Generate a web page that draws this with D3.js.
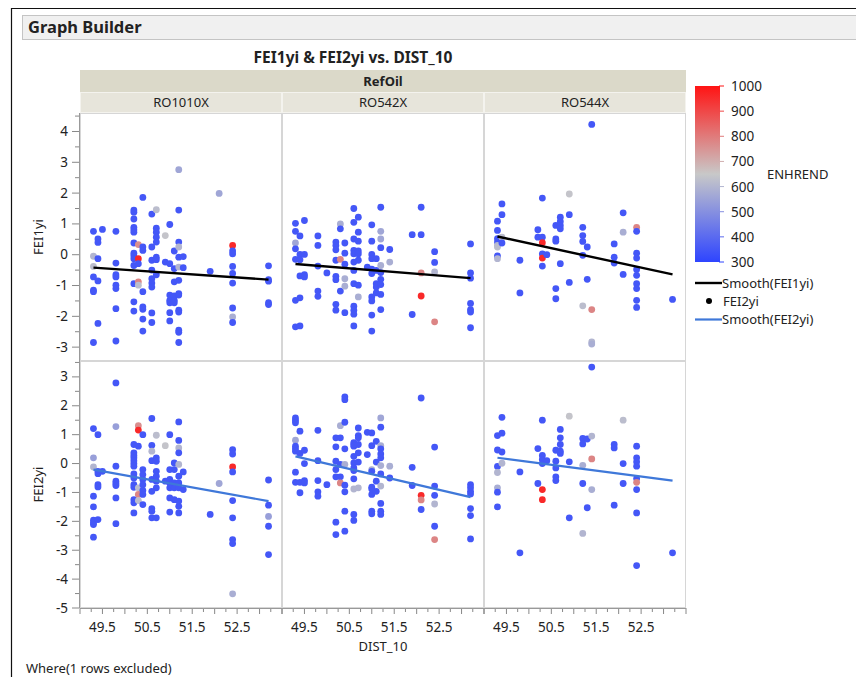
<!DOCTYPE html>
<html><head><meta charset="utf-8">
<script src="https://cdn.jsdelivr.net/npm/d3@7"></script>
<style>
body{margin:0;background:#fff;}
svg text{font-family:"Noto Sans","Open Sans",sans-serif;fill:#222;}
</style></head>
<body><svg id="c" width="856" height="677"></svg>
<script>
// ---------- data ----------
const refOils = ["RO1010X","RO542X","RO544X"];
const xTicks = [49.5,50.5,51.5,52.5];
const yTicksTop = [-3,-2,-1,0,1,2,3,4];
const yTicksBottom = [-5,-4,-3,-2,-1,0,1,2,3];
const colorTicks = [300,400,500,600,700,800,900,1000];

// [DIST_10, FEI1yi, ENHREND]
const fei1_RO1010X = [[49.3,0.76,350],[49.3,-0.05,600],[49.3,-0.38,620],[49.3,-0.72,350],[49.3,-1.15,350],[49.3,-1.2,350],[49.3,-2.85,350],
[49.4,0.51,350],[49.4,0.4,350],[49.4,-0.13,350],[49.4,-0.85,350],[49.4,-2.23,350],[49.5,0.82,350],
[49.8,0.76,350],[49.8,-0.27,350],[49.8,-0.65,350],[49.8,-0.72,350],[49.8,-0.99,350],[49.8,-1.1,350],[49.8,-1.75,350],[49.8,-2.8,350],
[50.2,1.45,350],[50.2,1.38,350],[50.2,1.16,350],[50.2,0.89,350],[50.2,0.81,350],[50.2,0.73,350],[50.2,0.38,350],[50.2,0.05,350],[50.2,-0.03,350],[50.2,-0.13,350],[50.2,-0.35,350],[50.2,-0.94,350],[50.2,-1.53,350],[50.2,-1.83,350],
[50.3,0.33,760],[50.3,-0.13,960],[50.3,-0.29,350],[50.3,-0.88,780],[50.3,-0.99,620],
[50.4,1.86,350],[50.4,0.25,350],[50.4,0.14,350],[50.4,-1.2,350],[50.4,-1.69,350],[50.4,-1.77,350],[50.4,-2.09,350],[50.4,-2.48,350],
[50.6,1.32,350],[50.6,0.25,350],[50.6,-0.18,350],[50.6,-0.5,350],[50.6,-0.78,350],[50.6,-0.92,350],[50.6,-1.05,350],[50.6,-1.89,350],[50.6,-2.2,350],
[50.7,1.46,620],[50.7,0.86,350],[50.7,0.73,350],[50.7,0.57,350],[50.7,0.41,350],[50.7,-0.08,350],[50.7,-0.16,350],[50.7,-0.65,350],
[50.9,0.62,640],[50.9,-0.24,350],
[51.0,0.98,350],[51.0,-0.29,350],[51.0,-1.31,350],[51.0,-1.48,350],[51.0,-1.56,350],[51.0,-1.88,350],[51.0,-2.15,350],
[51.1,0.12,350],[51.1,-0.45,350],[51.1,-0.88,350],[51.1,-1.34,350],[51.1,-1.48,350],[51.1,-1.56,350],
[51.2,2.76,560],[51.2,1.45,350],[51.2,0.41,350],[51.2,0.25,600],[51.2,-0.08,350],[51.2,-0.4,600],[51.2,-0.83,350],[51.2,-1.26,350],[51.2,-1.31,350],[51.2,-1.8,350],[51.2,-1.86,350],[51.2,-2.45,350],[51.2,-2.52,350],[51.2,-2.85,350],
[51.3,-0.06,350],[51.3,-0.42,350],[51.9,-0.54,350],[52.1,1.99,560],
[52.4,0.3,960],[52.4,0.12,350],[52.4,0.03,350],[52.4,-0.38,350],[52.4,-0.61,350],[52.4,-0.92,350],[52.4,-1.73,350],[52.4,-2.02,580],[52.4,-2.2,350],
[53.2,-0.36,350],[53.2,-0.81,350],[53.2,-0.86,350],[53.2,-1.56,350],[53.2,-1.62,350]];

const fei1_RO542X = [[49.3,1.02,350],[49.3,0.76,350],[49.3,0.38,560],[49.3,0.19,350],[49.3,-0.15,350],[49.3,-1.48,350],[49.3,-2.34,350],
[49.4,0.61,350],[49.4,0.01,350],[49.4,-0.16,350],[49.4,-0.69,350],[49.4,-1.4,350],[49.4,-2.31,350],
[49.5,1.11,350],[49.5,0.01,350],[49.5,-0.65,350],[49.5,-0.72,350],
[49.8,0.61,350],[49.8,0.3,350],[49.8,-0.37,350],[49.8,-1.18,350],[49.8,-1.35,350],[50.0,-0.59,350],
[50.2,0.41,350],[50.2,0.3,350],[50.2,0.16,350],[50.2,-0.18,350],[50.2,-0.7,350],[50.2,-0.81,350],[50.2,-1.61,350],[50.2,-1.8,350],
[50.3,1.0,580],[50.3,0.84,350],[50.3,-0.15,780],[50.3,-1.18,350],
[50.4,0.38,350],[50.4,0.05,350],[50.4,-0.31,350],[50.4,-0.78,580],[50.4,-1.02,580],[50.4,-1.88,350],
[50.6,1.5,350],[50.6,1.05,350],[50.6,0.51,350],[50.6,0.14,350],[50.6,0.03,350],[50.6,-0.24,350],[50.6,-0.51,350],[50.6,-0.94,350],[50.6,-1.67,350],[50.6,-1.8,350],[50.6,-1.93,350],[50.6,-2.31,350],
[50.7,1.22,350],[50.7,0.73,350],[50.7,0.44,350],[50.7,0.12,350],[50.7,0.03,350],[50.7,-0.18,350],[50.7,-0.99,350],[50.7,-1.37,580],
[50.9,-0.4,350],
[51.0,0.97,350],[51.0,0.44,350],[51.0,0.01,350],[51.0,-0.13,350],[51.0,-0.47,350],[51.0,-0.61,350],[51.0,-1.37,350],[51.0,-1.5,350],[51.0,-1.96,350],[51.0,-2.48,350],
[51.1,-0.13,350],[51.1,-0.51,350],[51.1,-0.94,350],[51.1,-1.05,350],[51.1,-1.24,350],
[51.2,1.54,350],[51.2,0.76,560],[51.2,0.51,560],[51.2,0.23,350],[51.2,-0.35,580],[51.2,-0.58,350],[51.2,-0.8,350],[51.2,-0.97,350],[51.2,-1.29,350],[51.2,-1.78,350],
[51.4,0.17,350],[51.4,-0.24,580],[51.9,0.65,350],[51.9,-1.94,350],
[52.1,1.54,350],[52.1,0.65,350],[52.1,-0.59,780],[52.1,-1.34,960],
[52.4,0.1,350],[52.4,-0.25,350],[52.4,-0.56,600],[52.4,-2.18,780],
[53.2,0.35,350],[53.2,-0.59,350],[53.2,-0.76,350],[53.2,-1.58,350],[53.2,-1.78,350],[53.2,-1.86,350],[53.2,-2.37,350]];

const fei1_RO544X = [[49.3,1.09,350],[49.3,0.79,350],[49.3,0.52,350],[49.3,0.41,350],[49.3,0.3,600],[49.3,0.25,620],[49.3,-0.04,350],[49.3,-0.13,600],
[49.4,1.65,350],[49.4,1.3,350],[49.4,0.57,620],[49.4,0.38,350],[49.8,-0.18,350],[49.8,-1.24,350],
[50.2,0.81,350],[50.2,0.57,350],
[50.3,1.84,350],[50.3,0.57,350],[50.3,0.39,960],[50.3,0.03,350],[50.3,-0.11,960],[50.3,-0.37,350],[50.4,0,350],
[50.6,0.95,350],[50.6,0.51,350],[50.6,0.44,350],[50.6,-1.1,350],[50.6,-1.43,350],
[50.7,1.22,350],[50.7,1.08,350],[50.7,0.95,350],[50.7,0.84,350],[50.7,-0.29,350],
[50.9,1.97,640],[50.9,1.3,350],[50.9,-0.9,350],
[51.2,0.89,350],[51.2,0.62,350],[51.2,0.43,350],[51.2,-0.02,350],[51.2,-1.66,620],
[51.3,0.25,350],[51.3,-0.8,350],
[51.4,4.23,350],[51.4,-1.78,780],[51.4,-2.83,600],[51.4,-2.9,580],
[51.9,0.35,350],[51.9,-0.08,350],[51.9,-0.27,350],
[52.1,1.36,350],[52.1,0.73,580],[52.1,-0.64,350],
[52.4,0.89,780],[52.4,0.76,350],[52.4,0.05,350],[52.4,-0.11,350],[52.4,-0.48,350],[52.4,-0.67,350],[52.4,-0.94,350],[52.4,-1.1,350],[52.4,-1.48,350],[52.4,-1.71,350],
[53.2,-1.45,350]];

// [DIST_10, FEI2yi, ENHREND]
const fei2_RO1010X = [[49.3,1.21,350],[49.3,0.2,540],[49.3,-0.12,600],[49.3,-1.13,350],[49.3,-1.5,350],[49.3,-1.96,350],[49.3,-2.05,350],[49.3,-2.11,350],[49.3,-2.55,350],
[49.4,1.0,350],[49.4,-0.27,350],[49.4,-0.35,350],[49.4,-0.73,350],[49.4,-0.81,350],[49.4,-1.94,350],[49.5,-0.27,350],
[49.8,2.79,350],[49.8,1.28,540],[49.8,-0.09,350],[49.8,-0.61,350],[49.8,-0.69,350],[49.8,-0.76,350],[49.8,-1.19,350],[49.8,-2.08,350],
[50.2,0.66,350],[50.2,0.37,350],[50.2,0.28,350],[50.2,0.2,350],[50.2,0.1,350],[50.2,0,350],[50.2,-0.09,350],[50.2,-0.36,350],[50.2,-0.5,350],[50.2,-0.73,350],[50.2,-0.82,350],[50.2,-1.25,350],[50.2,-1.36,350],[50.2,-1.71,350],
[50.3,1.31,760],[50.3,1.16,960],[50.3,0.6,350],[50.3,-0.84,620],[50.3,-1.07,780],[50.3,-1.28,620],
[50.4,1.0,350],[50.4,-0.21,350],[50.4,-0.38,350],[50.4,-0.55,350],[50.4,-0.73,350],[50.4,-0.93,350],[50.4,-1.07,350],[50.4,-1.42,350],
[50.6,1.56,350],[50.6,0.63,350],[50.6,0.43,600],[50.6,0.1,350],[50.6,-0.55,350],[50.6,-0.96,350],[50.6,-1.56,350],[50.6,-1.65,350],[50.6,-1.88,350],
[50.7,0.98,620],[50.7,0.2,350],[50.7,0.08,350],[50.7,-0.27,350],[50.7,-0.44,350],[50.7,-0.61,350],[50.7,-0.84,350],[50.7,-1.88,350],
[50.9,0.62,640],[50.9,-0.61,350],
[51.0,1.0,350],[51.0,-0.21,350],[51.0,-0.55,350],[51.0,-0.67,350],[51.0,-0.84,350],[51.0,-1.19,350],[51.0,-1.68,350],
[51.1,0.02,350],[51.1,-0.21,350],[51.1,-0.67,350],[51.1,-0.84,350],[51.1,-1.25,350],
[51.2,1.44,350],[51.2,0.8,350],[51.2,0.54,600],[51.2,0.37,350],[51.2,-0.03,600],[51.2,-0.44,350],[51.2,-0.67,350],[51.2,-0.84,350],[51.2,-1.3,350],[51.2,-1.48,350],[51.2,-1.71,350],
[51.3,-0.29,350],[51.3,-0.9,350],[51.9,-1.76,350],[52.1,-0.69,560],
[52.4,0.48,350],[52.4,0.33,350],[52.4,-0.12,960],[52.4,-0.29,350],[52.4,-1.28,350],[52.4,-1.88,350],[52.4,-2.63,350],[52.4,-2.77,350],[52.4,-4.51,580],
[53.2,-0.57,350],[53.2,-1.44,350],[53.2,-1.83,540],[53.2,-2.17,350],[53.2,-3.15,350]];

const fei2_RO542X = [[49.3,1.58,350],[49.3,1.49,350],[49.3,1.41,350],[49.3,0.81,560],[49.3,0.6,350],[49.3,0.51,350],[49.3,0.43,350],[49.3,-0.3,350],[49.3,-0.65,350],
[49.4,1.12,350],[49.4,0.35,350],[49.4,-0.65,350],[49.4,-1.01,350],
[49.5,0.46,350],[49.5,0,350],[49.5,-0.59,350],[49.5,-0.67,350],
[49.8,1.15,350],[49.8,0.1,350],[49.8,-0.59,350],[49.8,-0.98,350],[49.8,-1.13,350],[50.0,-0.73,350],
[50.2,0.89,350],[50.2,0.58,350],[50.2,0.08,350],[50.2,-0.21,350],[50.2,-0.46,350],[50.2,-2.03,350],[50.2,-2.46,350],
[50.3,1.31,580],[50.3,0.89,350],[50.3,-0.03,350],[50.3,-0.46,350],[50.3,-0.67,780],
[50.4,2.31,350],[50.4,2.21,350],[50.4,1.43,350],[50.4,0.51,350],[50.4,-0.03,580],[50.4,-0.75,350],[50.4,-0.98,350],[50.4,-1.65,350],[50.4,-2.34,350],
[50.6,0.72,350],[50.6,0.66,350],[50.6,0.6,350],[50.6,0.25,350],[50.6,0.02,350],[50.6,-0.15,350],[50.6,-0.24,350],[50.6,-0.53,350],[50.6,-0.88,600],[50.6,-1.76,350],[50.6,-1.97,350],
[50.7,1.23,350],[50.7,0.97,350],[50.7,0.89,350],[50.7,0.66,350],[50.7,0.37,350],[50.7,0.05,350],[50.7,-0.84,600],
[50.9,1.08,350],[50.9,0.31,350],
[51.0,1.06,350],[51.0,0.62,350],[51.0,-0.21,580],[51.0,-0.27,350],[51.0,-0.82,350],[51.0,-0.88,350],[51.0,-1.07,350],[51.0,-1.65,350],[51.0,-1.74,350],
[51.1,0.77,350],[51.1,0.05,350],[51.1,-0.61,350],[51.1,-0.96,350],
[51.2,1.58,560],[51.2,1.26,350],[51.2,0.62,580],[51.2,0.51,350],[51.2,0.33,350],[51.2,0.2,350],[51.2,-0.07,580],[51.2,-0.36,350],[51.2,-0.78,600],[51.2,-1.38,350],[51.2,-1.65,350],[51.2,-1.76,350],
[51.4,-0.09,580],[51.4,-0.5,350],[51.9,-0.13,350],[51.9,-0.76,350],
[52.1,2.27,350],[52.1,-1.1,960],[52.1,-1.26,780],[52.1,-1.59,350],
[52.4,0.57,350],[52.4,-0.78,350],[52.4,-1.1,350],[52.4,-1.4,600],[52.4,-2.17,350],[52.4,-2.63,780],
[53.2,-0.73,350],[53.2,-0.84,350],[53.2,-0.96,350],[53.2,-1.05,350],[53.2,-1.56,350],[53.2,-1.8,350],[53.2,-2.61,350]];

const fei2_RO544X = [[49.3,0.97,350],[49.3,0.47,350],[49.3,-0.1,350],[49.3,-0.31,600],[49.3,-0.84,580],[49.3,-0.99,350],[49.3,-1.5,350],
[49.4,1.6,350],[49.4,1.05,350],[49.4,0.4,350],[49.4,0.01,600],[49.8,-0.29,350],[49.8,-3.09,350],
[50.2,0.52,350],[50.2,-0.69,350],
[50.3,1.5,350],[50.3,0.28,350],[50.3,0.14,350],[50.3,0,350],[50.3,-0.9,960],[50.3,-1.25,960],[50.4,0.1,350],
[50.6,0.46,350],[50.6,0.08,350],[50.6,-0.15,350],[50.6,-0.46,350],[50.6,-0.59,350],
[50.7,1.18,350],[50.7,0.89,350],[50.7,0.66,350],[50.7,0.43,350],[50.7,0.35,350],
[50.9,1.64,640],[50.9,0.06,350],[50.9,-1.88,350],
[51.2,0.87,350],[51.2,0.68,350],[51.2,-0.06,580],[51.2,-0.69,350],[51.2,-2.42,600],
[51.3,0.85,350],[51.3,-1.53,350],
[51.4,3.34,350],[51.4,0.95,600],[51.4,0.16,780],[51.4,-0.9,580],
[51.9,0.66,350],[51.9,0.54,350],[51.9,-1.44,350],
[52.1,1.5,620],[52.1,0,350],[52.1,-0.69,350],
[52.4,0.6,350],[52.4,0.2,350],[52.4,0.06,350],[52.4,-0.09,350],[52.4,-0.52,350],[52.4,-0.65,780],[52.4,-0.9,350],[52.4,-1.71,350],[52.4,-3.53,350],
[53.2,-3.09,350]];

// smoother endpoints [DIST_10, value]
const smooth1_RO1010X = [[49.3,-0.42],[53.2,-0.81]];
const smooth1_RO542X  = [[49.3,-0.30],[53.2,-0.76]];
const smooth1_RO544X  = [[49.3,0.59],[53.2,-0.64]];
const smooth2_RO1010X = [[49.3,-0.21],[53.2,-1.30]];
const smooth2_RO542X  = [[49.3,0.25],[53.2,-1.16]];
const smooth2_RO544X  = [[49.3,0.20],[53.2,-0.59]];

// ---------- layout ----------
const svg = d3.select("#c");
const W=856,H=677;
const P = {left:80, width:202, topY:113, midY:361, botY:608};
const fei1 = [fei1_RO1010X, fei1_RO542X, fei1_RO544X];
const fei2 = [fei2_RO1010X, fei2_RO542X, fei2_RO544X];
const sm1 = [smooth1_RO1010X, smooth1_RO542X, smooth1_RO544X];
const sm2 = [smooth2_RO1010X, smooth2_RO542X, smooth2_RO544X];

const color = d3.scaleLinear().domain([300,650,1000]).range(["#2e44ff","#c8c8c8","#ff1414"]).clamp(true);
const yTop = d3.scaleLinear().domain([-3.45,4.6]).range([P.midY,P.topY]);
const yBot = d3.scaleLinear().domain([-5,3.55]).range([P.botY,P.midY]);

// outer frame
svg.append("rect").attr("x",0).attr("y",0).attr("width",W).attr("height",H).attr("fill","#fff");
svg.append("path").attr("d",`M11.5,${H} V8.5 H${W}`).attr("fill","none").attr("stroke","#111").attr("stroke-width",1.2);
svg.append("rect").attr("x",22.5).attr("y",15.5).attr("width",W).attr("height",24).attr("fill","#f0f0f0").attr("stroke","#c4c4c4");
svg.append("text").attr("x",28).attr("y",33).attr("font-size",16.5).attr("font-weight","bold").attr("fill","#111").text("Graph Builder");

svg.append("text").attr("x",353).attr("y",63).attr("text-anchor","middle").attr("font-size",15.5).attr("font-weight","bold").text("FEI1yi & FEI2yi vs. DIST_10");

// headers
const fullW = P.width*3;
svg.append("rect").attr("x",P.left).attr("y",70).attr("width",fullW).attr("height",22).attr("fill","#dbd9c9");
svg.append("text").attr("x",P.left+fullW/2).attr("y",86).attr("text-anchor","middle").attr("font-size",13).attr("font-weight","bold").text("RefOil");
refOils.forEach((r,i)=>{
  const x0=P.left+i*P.width;
  svg.append("rect").attr("x",x0+0.5).attr("y",92.5).attr("width",P.width-1).attr("height",20).attr("fill","#e7e5db").attr("stroke","#f4f3ee");
  svg.append("text").attr("x",x0+P.width/2).attr("y",107).attr("text-anchor","middle").attr("font-size",13).text(r);
});

// panels
refOils.forEach((r,i)=>{
  const x0=P.left+i*P.width;
  const x = d3.scaleLinear().domain([49,53.5]).range([x0,x0+P.width]);
  [[yTop,fei1[i],sm1[i],"#000",P.topY,P.midY],[yBot,fei2[i],sm2[i],"#3f78d9",P.midY,P.botY]].forEach(([y,pts,sm,lc,t,b])=>{
    const g = svg.append("g");
    g.append("rect").attr("x",x0+0.5).attr("y",t+0.5).attr("width",P.width-1).attr("height",b-t-1).attr("fill","#fff").attr("stroke","#d6d6d6");
    g.selectAll("circle").data(pts).join("circle")
      .attr("cx",d=>x(d[0])).attr("cy",d=>y(d[1])).attr("r",3.4)
      .attr("fill",d=>color(d[2]));
    g.append("path").datum(sm).attr("d",d3.line().x(d=>x(d[0])).y(d=>y(d[1])))
      .attr("fill","none").attr("stroke",lc).attr("stroke-width",lc==="#000"?2.4:2.2);
  });
  // x axis
  const minor = d3.range(49,53.51,0.25);
  const ax = svg.append("g").attr("transform",`translate(0,${P.botY})`);
  ax.selectAll("line").data(minor).join("line")
    .attr("x1",d=>x(d)).attr("x2",d=>x(d)).attr("y1",0).attr("y2",d=>(Math.abs(d*2-Math.round(d*2))<1e-6)?6:4)
    .attr("stroke","#888");
  ax.selectAll("text").data(xTicks).join("text")
    .attr("x",d=>x(d)).attr("y",24).attr("text-anchor","middle").attr("font-size",13.5).text(d=>d3.format(".1f")(d));
});
svg.append("line").attr("x1",P.left).attr("x2",P.left+fullW).attr("y1",P.botY+0.5).attr("y2",P.botY+0.5).attr("stroke","#999");

// y axes
function yAxis(scale, ticks, t, b, title){
  const g = svg.append("g");
  g.append("line").attr("x1",P.left-0.5).attr("x2",P.left-0.5).attr("y1",t).attr("y2",b).attr("stroke","#999");
  const [lo,hi]=scale.domain();
  const minor = d3.range(Math.ceil(lo*2)/2, hi+0.001, 0.5);
  g.selectAll("line.t").data(minor).join("line").attr("class","t")
    .attr("x1",P.left-1).attr("x2",d=>P.left-(Number.isInteger(d)?8:5))
    .attr("y1",d=>scale(d)).attr("y2",d=>scale(d)).attr("stroke","#888");
  g.selectAll("text").data(ticks).join("text")
    .attr("x",P.left-12).attr("y",d=>scale(d)+4.5).attr("text-anchor","end").attr("font-size",13.5).text(d=>d);
  svg.append("text").attr("transform",`translate(43,${(t+b)/2}) rotate(-90)`).attr("text-anchor","middle").attr("font-size",13).text(title);
}
yAxis(yTop,yTicksTop,P.topY,P.midY,"FEI1yi");
yAxis(yBot,yTicksBottom,P.midY,P.botY,"FEI2yi");

svg.append("text").attr("x",P.left+fullW/2).attr("y",651).attr("text-anchor","middle").attr("font-size",13).text("DIST_10");
svg.append("text").attr("x",26).attr("y",673).attr("font-size",13).text("Where(1 rows excluded)");

// color legend
const cb = {x:695,w:25,top:86,bot:262};
const defs = svg.append("defs");
const grad = defs.append("linearGradient").attr("id","cg").attr("x1",0).attr("y1",1).attr("x2",0).attr("y2",0);
[300,475,650,825,1000].forEach(v=>grad.append("stop").attr("offset",(v-300)/700).attr("stop-color",color(v)));
svg.append("rect").attr("x",cb.x).attr("y",cb.top).attr("width",cb.w).attr("height",cb.bot-cb.top).attr("fill","url(#cg)");
const cs = d3.scaleLinear().domain([300,1000]).range([cb.bot,cb.top]);
svg.selectAll("line.cbt").data(colorTicks).join("line").attr("class","cbt")
  .attr("x1",cb.x+cb.w-1).attr("x2",cb.x+cb.w+4).attr("y1",d=>cs(d)).attr("y2",d=>cs(d)).attr("stroke",d=>color(d));
svg.selectAll("text.cbl").data(colorTicks).join("text").attr("class","cbl")
  .attr("x",cb.x+cb.w+11).attr("y",d=>cs(d)+5).attr("font-size",13.5).text(d=>d);
svg.append("text").attr("x",767).attr("y",179).attr("font-size",13).text("ENHREND");

// legend items
const lg = svg.append("g");
lg.append("line").attr("x1",695).attr("x2",722).attr("y1",283).attr("y2",283).attr("stroke","#000").attr("stroke-width",2.4);
lg.append("text").attr("x",722).attr("y",288).attr("font-size",13).text("Smooth(FEI1yi)");
lg.append("circle").attr("cx",709).attr("cy",301).attr("r",3).attr("fill","#000");
lg.append("text").attr("x",723).attr("y",306).attr("font-size",13).text("FEI2yi");
lg.append("line").attr("x1",695).attr("x2",722).attr("y1",319.5).attr("y2",319.5).attr("stroke","#3f78d9").attr("stroke-width",2.2);
lg.append("text").attr("x",722).attr("y",324).attr("font-size",13).text("Smooth(FEI2yi)");
</script></body></html>
